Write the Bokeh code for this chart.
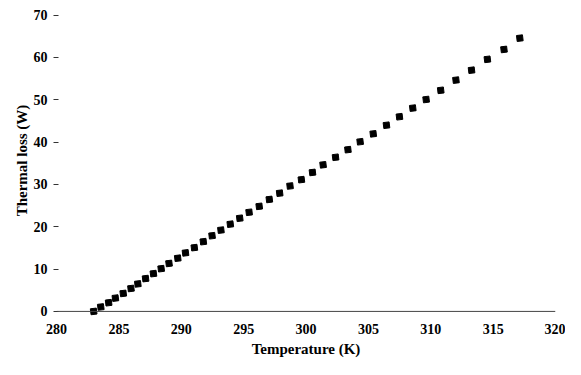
from bokeh.plotting import figure
from bokeh.models import Range1d, FixedTicker, Span, ColumnDataSource
from bokeh.embed import file_html
from bokeh.resources import INLINE

# Data
temperature_K = [282.98, 283.55, 284.18, 284.72, 285.35, 285.97, 286.52, 287.14, 287.77, 288.39,
                 289.02, 289.72, 290.34, 291.05, 291.77, 292.47, 293.18, 293.93, 294.69, 295.44,
                 296.25, 297.06, 297.89, 298.72, 299.63, 300.52, 301.37, 302.37, 303.36, 304.34,
                 305.39, 306.45, 307.49, 308.56, 309.63, 310.80, 312.02, 313.27, 314.54, 315.87,
                 317.14]
thermal_loss_W = [0.00, 1.05, 2.06, 3.15, 4.25, 5.42, 6.50, 7.76, 8.93, 10.10,
                  11.33, 12.57, 13.83, 15.07, 16.48, 17.88, 19.21, 20.61, 22.01, 23.42,
                  24.82, 26.45, 27.93, 29.63, 31.13, 32.83, 34.63, 36.41, 38.21, 40.08,
                  41.95, 43.98, 45.99, 48.03, 50.06, 52.23, 54.64, 56.98, 59.55, 61.88,
                  64.55]
x_ticks = [280, 285, 290, 295, 300, 305, 310, 315, 320]
y_ticks = [0, 10, 20, 30, 40, 50, 60, 70]

source = ColumnDataSource(data=dict(t=temperature_K, q=thermal_loss_W))

FONT = "Liberation Serif"

p = figure(width=565, height=359, output_backend="svg", toolbar_location=None,
           x_range=Range1d(280, 320), y_range=Range1d(-1.2, 72.5),
           min_border_left=56, min_border_right=10, min_border_top=4, min_border_bottom=43)
p.outline_line_color = None
p.xgrid.grid_line_color = None
p.ygrid.grid_line_color = None
p.background_fill_color = "white"
p.border_fill_color = "white"

# zero line acting as x axis line
p.add_layout(Span(location=0, dimension="width", line_color="#444444", line_width=1))

p.scatter("t", "q", source=source, marker="square", size=6, color="black", angle=0.12)

# x axis
xa = p.xaxis[0]
xa.ticker = FixedTicker(ticks=x_ticks)
xa.axis_line_color = None
xa.major_tick_line_color = None
xa.major_tick_in = 0
xa.major_tick_out = 0
xa.minor_tick_line_color = None
xa.minor_tick_in = 0
xa.minor_tick_out = 0
xa.major_label_standoff = 7
xa.major_label_text_font = FONT
xa.major_label_text_font_style = "bold"
xa.major_label_text_font_size = "14px"
xa.major_label_text_color = "black"
xa.axis_label = "Temperature (K)"
xa.axis_label_text_font = FONT
xa.axis_label_text_font_style = "bold"
xa.axis_label_text_font_size = "15px"
xa.axis_label_text_color = "black"
xa.axis_label_standoff = 4

# y axis
ya = p.yaxis[0]
ya.ticker = FixedTicker(ticks=y_ticks)
ya.axis_line_color = None
ya.major_tick_line_color = "#333333"
ya.major_tick_in = 2
ya.major_tick_out = 3
ya.minor_tick_line_color = None
ya.minor_tick_in = 0
ya.minor_tick_out = 0
ya.major_label_standoff = 6
ya.major_label_text_font = FONT
ya.major_label_text_font_style = "bold"
ya.major_label_text_font_size = "14px"
ya.major_label_text_color = "black"
ya.axis_label = "Thermal loss (W)"
ya.axis_label_text_font = FONT
ya.axis_label_text_font_style = "bold"
ya.axis_label_text_font_size = "15px"
ya.axis_label_text_color = "black"
ya.axis_label_standoff = 1

open("out.html", "w").write(file_html(p, INLINE))
